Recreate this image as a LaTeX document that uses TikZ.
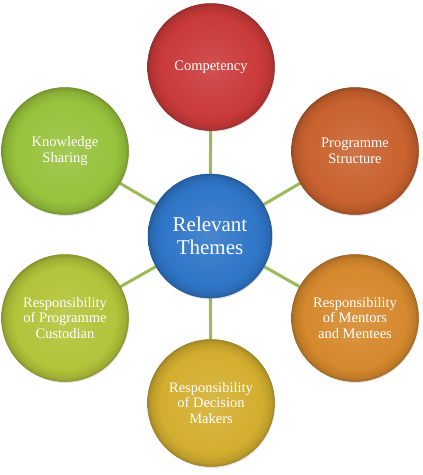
\documentclass[tikz,border=0pt]{standalone}
\usepackage{fontspec}
\setmainfont{Liberation Serif}
\usetikzlibrary{backgrounds,shadows}
\definecolor{cRed}{HTML}{CA3A3A}
\definecolor{cOrR}{HTML}{C9622E}
\definecolor{cOr}{HTML}{D6892D}
\definecolor{cGold}{HTML}{D3AE2F}
\definecolor{cYG}{HTML}{B3C33A}
\definecolor{cGr}{HTML}{98C23C}
\definecolor{cBlue}{HTML}{2F76C8}
\definecolor{cLink}{HTML}{9BBB59}
\colorlet{rimc}{cBlue}
\pgfdeclareradialshading[rimc]{rimshade}{\pgfpoint{0bp}{0bp}}{%
  color(0bp)=(rimc!88!white); color(12bp)=(rimc!96!white);
  color(20bp)=(rimc); color(23.5bp)=(rimc!90!black);
  color(25bp)=(rimc!78!black); color(50bp)=(rimc!78!black)}
\tikzset{
  bubble/.style={circle, minimum size=127pt, inner sep=0pt, align=center,
    text=white, draw=#1!72!black, line width=0.5pt,
    /utils/exec={\colorlet{rimc}{#1}}, shading=rimshade,
    drop shadow={shadow xshift=0.8pt, shadow yshift=-1.5pt, opacity=0.22},
    font=\fontsize{14.5}{15.5}\selectfont},
  hub/.style={bubble=#1, minimum size=124pt, font=\fontsize{21}{23}\selectfont},
  link/.style={draw=cLink, line width=3pt}
}
\begin{document}
\begin{tikzpicture}[x=1pt,y=-1pt]
\useasboundingbox (0,0) rectangle (423,475);
\node[hub=cBlue] (c) at (210,236) {Relevant\\Themes};
\node[bubble=cRed] (n1) at (211,67) {Competency};
\node[bubble=cOrR] (n2) at (355,151) {Programme\\Structure};
\node[bubble=cOr] (n3) at (355,318) {Responsibility\\of Mentors\\and Mentees};
\node[bubble=cGold] (n4) at (211,403) {Responsibility\\of Decision\\Makers};
\node[bubble=cYG] (n5) at (65,318) {Responsibility\\of Programme\\Custodian};
\node[bubble=cGr] (n6) at (65,151) {Knowledge\\Sharing};
\begin{scope}[on background layer]
\foreach \n in {n1,n2,n3,n4,n5,n6} \draw[link] (c.center) -- (\n.center);
\end{scope}
\end{tikzpicture}
\end{document}
